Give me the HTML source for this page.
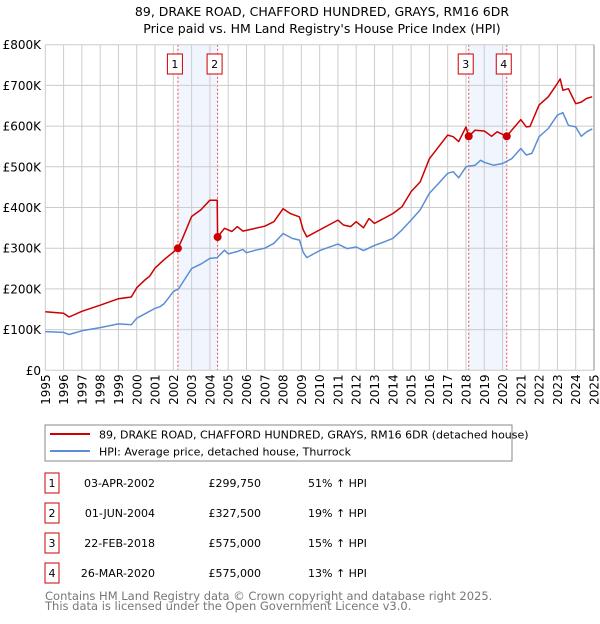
<!DOCTYPE html>
<html><head><meta charset="utf-8">
<style>
body{margin:0;width:600px;height:620px;background:#fff;font-family:"DejaVu Sans","Liberation Sans",sans-serif;overflow:hidden}
svg text{font-family:"DejaVu Sans","Liberation Sans",sans-serif}
</style></head>
<body>
<svg id="c" width="600" height="620">
<text x="322" y="16" text-anchor="middle" font-size="12.5">89, DRAKE ROAD, CHAFFORD HUNDRED, GRAYS, RM16 6DR</text>
<text x="322" y="33" text-anchor="middle" font-size="12.5">Price paid vs. HM Land Registry's House Price Index (HPI)</text>
<g id="bands"></g><g id="grid"></g><g id="axes"></g><g id="series"></g><g id="marks"></g>
<rect x="45" y="425" width="467" height="36" fill="none" stroke="#888"/>
<line x1="50" y1="434" x2="90" y2="434" stroke="#cc0000" stroke-width="2"/>
<text x="99" y="438.5" font-size="11">89, DRAKE ROAD, CHAFFORD HUNDRED, GRAYS, RM16 6DR (detached house)</text>
<line x1="50" y1="451" x2="90" y2="451" stroke="#5b8ed6" stroke-width="2"/>
<text x="99" y="455.5" font-size="11">HPI: Average price, detached house, Thurrock</text>
<g id="table"></g>
<text x="45" y="600" font-size="11.5" fill="#777">Contains HM Land Registry data © Crown copyright and database right 2025.</text>
<text x="45" y="610" font-size="11.5" fill="#777">This data is licensed under the Open Government Licence v3.0.</text>
</svg>
<script>
const hpiYears=[1995,1996,1996.3,1997,1998,1999,1999.7,2000,2000.5,2001,2001.3,2001.5,2002,2002.3,2003,2003.5,2004,2004.4,2004.8,2005,2005.5,2005.8,2006,2006.5,2007,2007.5,2008,2008.5,2008.9,2009.1,2009.3,2010,2011,2011.5,2012,2012.4,2013,2013.5,2014,2014.5,2015,2015.5,2016,2016.5,2017,2017.3,2017.6,2018,2018.5,2018.8,2019,2019.5,2020,2020.5,2021,2021.3,2021.6,2022,2022.5,2023,2023.3,2023.6,2024,2024.3,2024.6,2024.9];
const hpiValues=[95,93,88,97,105,114,112,128,140,152,157,164,193,201,250,261,275,277,295,286,292,297,289,295,300,312,336,324,320,290,277,294,310,299,303,294,307,315,324,345,369,394,435,459,484,488,473,500,504,516,511,504,508,520,545,529,533,574,594,627,633,602,598,575,586,593];
const priceYears=[1995,1996,1996.3,1997,1998,1999,1999.7,2000,2000.5,2000.7,2001,2001.5,2002.25,2002.5,2003,2003.5,2004,2004.4,2004.42,2004.8,2005.2,2005.5,2005.8,2006.3,2007,2007.5,2008,2008.4,2008.9,2009.1,2009.3,2010,2011,2011.3,2011.7,2012,2012.4,2012.7,2013,2013.5,2014,2014.5,2015,2015.5,2016,2016.5,2017,2017.3,2017.6,2018,2018.15,2018.5,2019,2019.4,2019.7,2020.23,2020.5,2021,2021.3,2021.5,2022,2022.5,2023,2023.15,2023.3,2023.6,2024,2024.3,2024.6,2024.9];
const priceValues=[144,140,131,145,160,176,180,203,224,231,251,272,299.75,324,378,394,418,418,327.5,349,341,353,342,347,354,365,397,385,377,345,328,345,369,357,353,365,350,373,361,373,385,402,439,463,520,549,578,574,562,598,575,590,588,575,586,575,590,616,598,599,652,672,705,716,688,692,655,659,668,672];
const saleLabels=["1","2","3","4"];
const saleYears=[2002.25,2004.42,2018.15,2020.23];
const saleValues=[299.75,327.5,575,575];
const saleDates=["03-APR-2002","01-JUN-2004","22-FEB-2018","26-MAR-2020"];
const salePrices=["£299,750","£327,500","£575,000","£575,000"];
const saleDiffs=["51% ↑ HPI","19% ↑ HPI","15% ↑ HPI","13% ↑ HPI"];
const yTicks=[0,100,200,300,400,500,600,700,800];
const yTickLabels=["£0","£100K","£200K","£300K","£400K","£500K","£600K","£700K","£800K"];
const xTicks=[1995,1996,1997,1998,1999,2000,2001,2002,2003,2004,2005,2006,2007,2008,2009,2010,2011,2012,2013,2014,2015,2016,2017,2018,2019,2020,2021,2022,2023,2024,2025];

const NS="http://www.w3.org/2000/svg";
const X0=45.3,X1=594,Y0=370.3,Y1=44.7;
const xs=y=>X0+(y-1995)/30*(X1-X0);
const ys=v=>Y0-v/800*(Y0-Y1);
function mk(tag,attrs,parent){const e=document.createElementNS(NS,tag);for(const k in attrs)e.setAttribute(k,attrs[k]);document.getElementById(parent).appendChild(e);return e;}

for(let i=0;i<4;i+=2){
 const b=mk('rect',{x:xs(saleYears[i]),y:Y1,width:xs(saleYears[i+1])-xs(saleYears[i]),height:Y0-Y1,fill:'#eef3fc',opacity:0.8},'bands');
 
 
}
yTicks.forEach((t,i)=>{
 const l=mk('line',{x1:X0,x2:X1,y1:ys(t),y2:ys(t),stroke:'#ccc'},'grid');
 
 
 const tx=mk('text',{x:41,y:ys(t)+4.5,'text-anchor':'end','font-size':12},'axes');
 tx.textContent=yTickLabels[i];
 
 
});
xTicks.forEach(t=>{
 const l=mk('line',{x1:xs(t),x2:xs(t),y1:Y1,y2:Y0,stroke:'#ccc'},'grid');
 
 
 const tx=mk('text',{x:0,y:0,'text-anchor':'end','font-size':12,transform:`translate(${xs(t)+4.5},${Y0+4}) rotate(-90)`},'axes');
 tx.textContent=t;
 
 
});
const rb=mk('line',{x1:X1,x2:X1,y1:Y1,y2:Y0,stroke:'#888'},'axes');


saleYears.forEach((s,i)=>{
 const l=mk('line',{x1:xs(s),x2:xs(s),y1:Y1,y2:Y0,stroke:'#e05050','stroke-dasharray':'2,2','stroke-width':1},'bands');
 
 
});
function path(xa,va,color,name){
 const d=xa.map((x,i)=>(i?'L':'M')+xs(x).toFixed(1)+','+ys(va[i]).toFixed(1)).join('');
 const p=mk('path',{d:d,fill:'none',stroke:color,'stroke-width':1.5,'stroke-linejoin':'round'},'series');
 
 
}
path(hpiYears,hpiValues,'#5b8ed6','hpi-line');
path(priceYears,priceValues,'#cc0000','price-line');
saleYears.forEach((s,i)=>{
 const c=mk('circle',{cx:xs(s),cy:ys(saleValues[i]),r:4,fill:'#cc0000'},'marks');
 
 
 const bx=xs(s)-3-7.5;
 const r=mk('rect',{x:bx,y:54,width:15,height:20,fill:'#fff',stroke:'#cc0000'},'marks');
 
 
 const t=mk('text',{x:bx+7.5,y:68,'text-anchor':'middle','font-size':11},'marks');
 t.textContent=saleLabels[i];
 
 
});
saleLabels.forEach((lab,i)=>{
 const cy=483+i*30;
 const r=mk('rect',{x:45,y:cy-10,width:14,height:20,fill:'#fff',stroke:'#cc0000'},'table');
 
 
 const cells=[[52,'middle',lab,'table-row-number'],[155,'end',saleDates[i],'table-date'],[261,'end',salePrices[i],'table-price'],[308,'start',saleDiffs[i],'table-hpi-diff']];
 cells.forEach(c=>{
  const t=mk('text',{x:c[0],y:cy+4,'text-anchor':c[1],'font-size':11},'table');
  t.textContent=c[2];
  
  
 });
});
</script>
</body></html>
